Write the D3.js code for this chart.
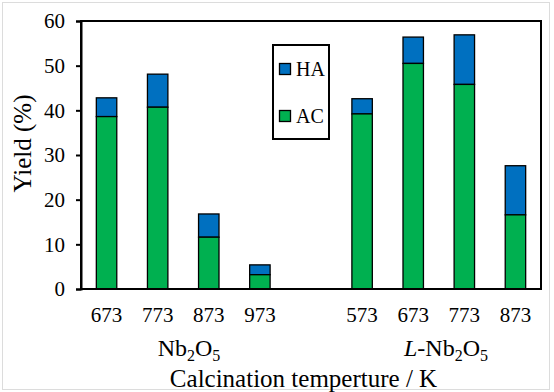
<!DOCTYPE html>
<html>
<head>
<meta charset="utf-8">
<script src="https://cdn.jsdelivr.net/npm/d3@7"></script>
<style>
  body { margin: 0; background: #fff; }
  svg text { font-family: "Liberation Serif", "Times New Roman", serif; fill: #000; }
</style>
</head>
<body>
<div id="chart"></div>
<script>
// data
const slots = ["Nb-673", "Nb-773", "Nb-873", "Nb-973", "gap", "L-573", "L-673", "L-773", "L-873"];
const tickLabels = ["673", "773", "873", "973", "", "573", "673", "773", "873"];
const acValues = [38.6, 40.7, 11.6, 3.2, null, 39.2, 50.5, 45.8, 16.6];
const totalValues = [42.8, 48.1, 16.8, 5.4, null, 42.6, 56.4, 56.9, 27.6];
const yTicks = [0, 10, 20, 30, 40, 50, 60];

const W = 554, H = 392;
const margin = { top: 21, right: 13, bottom: 103, left: 81 };
const width = W - margin.left - margin.right;
const height = H - margin.top - margin.bottom;

const svg = d3.select("#chart").append("svg")
  .attr("width", W)
  .attr("height", H);

// faint outer frame of the picture
svg.append("rect")
  .attr("x", 2.5).attr("y", 2.5)
  .attr("width", 547).attr("height", 387)
  .attr("fill", "none")
  .attr("stroke", "#dcdcdc")
  .attr("stroke-width", 1);

const g = svg.append("g")
  .attr("transform", `translate(${margin.left},${margin.top})`);

const x = d3.scaleBand()
  .domain(slots)
  .range([0, width])
  .paddingInner(0.6)
  .paddingOuter(0.3);

const y = d3.scaleLinear()
  .domain([0, 60])
  .range([height, 0]);

const data = slots.map((s, i) => ({ slot: s, ac: acValues[i], total: totalValues[i] }))
  .filter(d => d.ac !== null);

// HA (top part)
g.selectAll(".ha")
  .data(data)
  .enter().append("rect")
  .attr("class", "ha")
  .attr("x", d => x(d.slot))
  .attr("y", d => y(d.total))
  .attr("width", x.bandwidth())
  .attr("height", d => y(d.ac) - y(d.total))
  .attr("fill", "#0070C0")
  .attr("stroke", "#000")
  .attr("stroke-width", 1.3);

// AC (bottom part)
g.selectAll(".ac")
  .data(data)
  .enter().append("rect")
  .attr("class", "ac")
  .attr("x", d => x(d.slot))
  .attr("y", d => y(d.ac))
  .attr("width", x.bandwidth())
  .attr("height", d => height - y(d.ac))
  .attr("fill", "#00B050")
  .attr("stroke", "#000")
  .attr("stroke-width", 1.3);

// plot frame
g.append("rect")
  .attr("width", width)
  .attr("height", height)
  .attr("fill", "none")
  .attr("stroke", "#000")
  .attr("stroke-width", 2);

// Y axis
const yAxis = g.append("g")
  .call(d3.axisLeft(y).tickValues(yTicks).tickSize(5).tickPadding(11))
  .attr("font-family", null)
  .attr("font-size", null);
yAxis.select(".domain").attr("stroke-width", 2);
yAxis.selectAll(".tick line").attr("stroke-width", 2);
yAxis.selectAll("text")
  .style("font-size", "21px");

// X tick labels
g.append("g")
  .selectAll("text")
  .data(slots.map((s, i) => ({ slot: s, label: tickLabels[i] })))
  .enter().append("text")
  .attr("x", d => x(d.slot) + x.bandwidth() / 2)
  .attr("y", height + 33)
  .attr("text-anchor", "middle")
  .style("font-size", "21px")
  .text(d => d.label);

// group labels with subscripts
function formula(sel, prefix) {
  if (prefix) sel.append("tspan").attr("font-style", "italic").text(prefix);
  if (prefix) sel.append("tspan").text("-");
  sel.append("tspan").text("Nb");
  sel.append("tspan").attr("dy", 5).style("font-size", "16px").text("2");
  sel.append("tspan").attr("dy", -5).text("O");
  sel.append("tspan").attr("dy", 5).style("font-size", "16px").text("5");
}

const groupY = height + 67;
const g1 = g.append("text")
  .attr("x", 189 - margin.left)
  .attr("y", groupY)
  .attr("text-anchor", "middle")
  .style("font-size", "24px");
formula(g1, null);

const g2 = g.append("text")
  .attr("x", 446 - margin.left)
  .attr("y", groupY)
  .attr("text-anchor", "middle")
  .style("font-size", "24px");
formula(g2, "L");

// axis titles
g.append("text")
  .attr("x", width / 2 - 7.5)
  .attr("y", height + 98)
  .attr("text-anchor", "middle")
  .style("font-size", "25px")
  .text("Calcination temperture / K");

g.append("text")
  .attr("transform", "rotate(-90)")
  .attr("x", -122.5)
  .attr("y", -50)
  .attr("text-anchor", "middle")
  .style("font-size", "25px")
  .text("Yield (%)");

// legend
const legend = g.append("g")
  .attr("transform", `translate(${273 - margin.left},${45 - margin.top})`);

legend.append("rect")
  .attr("width", 56)
  .attr("height", 94)
  .attr("fill", "#fff")
  .attr("stroke", "#000")
  .attr("stroke-width", 2);

const legendItems = [
  { label: "HA", color: "#0070C0", cy: 24 },
  { label: "AC", color: "#00B050", cy: 71 }
];

legendItems.forEach(d => {
  legend.append("rect")
    .attr("x", 6.5)
    .attr("y", d.cy - 5.5)
    .attr("width", 11)
    .attr("height", 11)
    .attr("fill", d.color)
    .attr("stroke", "#000")
    .attr("stroke-width", 1.3);
  legend.append("text")
    .attr("x", 23)
    .attr("y", d.cy + 7)
    .style("font-size", "20px")
    .text(d.label);
});
</script>
</body>
</html>
